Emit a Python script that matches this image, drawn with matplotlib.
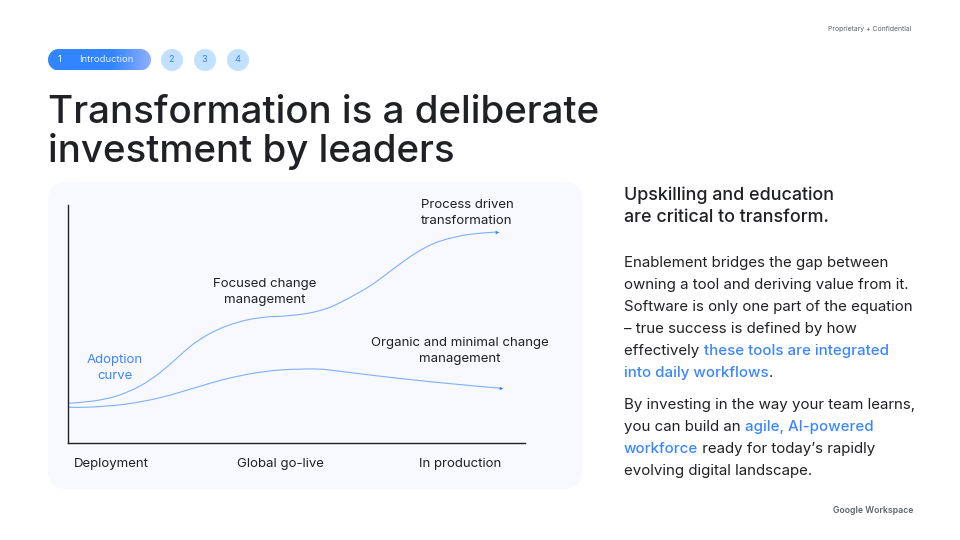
import numpy as np
import matplotlib
matplotlib.use("Agg")
import matplotlib.pyplot as plt
from matplotlib.patches import FancyBboxPatch, Circle, PathPatch, Polygon
from matplotlib.path import Path
from matplotlib.colors import LinearSegmentedColormap

FONT = "Inter"
DARK = "#202124"
BLUE = "#3b86ff"
LINE = "#7fb0fb"

steps = ["2", "3", "4"]
x_categories = ["Deployment", "Global go-live", "In production"]
x_category_pos = [43.5, 212.5, 392.5]
focused_x = [0.8, 25.8, 49.2, 72.5, 92.5, 109.2, 125.8, 142.5, 159.2, 179.2, 199.2, 215.8,
             239.2, 259.2, 275.8, 299.2, 315.8, 332.5, 349.2, 365.8, 382.5, 402.5, 429.2]
focused_y = [39.2, 41.5, 46.5, 56.5, 69.8, 84.2, 98.5, 109, 116.5, 122.5, 125.5, 126.4,
             129, 134, 141.5, 154.5, 166, 178.5, 190, 198.8, 204.2, 208.2, 210.5]
organic_x = [0.5, 25.5, 59.2, 92.5, 125.8, 142.5, 162.5, 185.8, 212.5, 249.2, 275.8, 302.5, 365.5, 433.5]
organic_y = [35.2, 35.5, 38.5, 44.8, 54.2, 59.2, 64.5, 69.2, 72.5, 73.5, 70.8, 67.5, 60.5, 54.2]

fig = plt.figure(figsize=(9.6, 5.4), dpi=100, facecolor="white")
bg = fig.add_axes([0, 0, 1, 1])
bg.set_xlim(0, 960); bg.set_ylim(540, 0); bg.axis("off")


def px(size):
    return size * 0.72


def T(x, y, s, size, color=DARK, ha="left", va="baseline", weight="normal", ax=None):
    return (ax or bg).text(x, y, s, fontsize=px(size), color=color, ha=ha, va=va,
                           fontweight=weight, family=FONT)


def smooth_path(xs, ys):
    """Bezier path running through the read points."""
    p = np.column_stack([xs, ys], ).astype(float)
    verts, codes = [p[0]], [Path.MOVETO]
    for i in range(len(p) - 1):
        a = p[max(i - 1, 0)]; b = p[i]; c = p[i + 1]; d = p[min(i + 2, len(p) - 1)]
        verts += [b + (c - a) / 6, c - (d - b) / 6, c]
        codes += [Path.CURVE4] * 3
    return Path(verts, codes)


# panel
bg.add_patch(FancyBboxPatch((66, 200), 498, 271, boxstyle="round,pad=18,rounding_size=18",
                            fc="#f7f9fe", ec="none"))

# progress pill
t = np.linspace(0, np.pi, 40)
r_p = 10.75
outline = np.vstack([
    np.column_stack([140.25 + r_p * np.sin(t), 59.75 - r_p * np.cos(t)]),
    np.column_stack([58.75 - r_p * np.sin(t), 59.75 + r_p * np.cos(t)]),
])
pill = Polygon(outline, closed=True, fc="none", ec="none", transform=bg.transData)
bg.add_patch(pill)
cm = LinearSegmentedColormap.from_list("p", [(0, "#3284ff"), (0.62, "#3284ff"), (1, "#8fb0ff")])
im = bg.imshow(np.linspace(0, 1, 256)[None, :], cmap=cm, extent=[48, 151, 70.5, 49], aspect="auto", zorder=2)
im.set_clip_path(pill)
bg.set_xlim(0, 960); bg.set_ylim(540, 0)
T(58, 59.5, "1", 9.5, "white", va="center").set_zorder(3)
T(79, 59.5, "Introduction", 9.5, "#e8f0ff", va="center").set_zorder(3)
for cx, s in zip([172, 205, 238], steps):
    bg.add_patch(Circle((cx, 60), 11, fc="#c2e1ff", ec="none"))
    T(cx - 0.5, 60, s, 9.5, "#3f83f0", ha="center", va="center")

T(911, 31, "Proprietary + Confidential", 6.9, "#5f6368", ha="right")
T(913, 513, "Google Workspace", 8.7, "#5f6368", ha="right", weight="semibold")

T(48, 123, "Transformation is a deliberate", 38.5, weight="medium")
T(48, 162, "investment by leaders", 38.5, weight="medium")

# chart
ax = fig.add_axes([67.5 / 960, 1 - 442.5 / 540, 457 / 960, 237.5 / 540], facecolor="none")
ax.set_xlim(0, 457); ax.set_ylim(0, 237.5)
for s in ["top", "right"]:
    ax.spines[s].set_visible(False)
for s in ["left", "bottom"]:
    ax.spines[s].set_color(DARK); ax.spines[s].set_linewidth(1.0)
ax.set_yticks([])
ax.set_xticks(x_category_pos, x_categories, fontsize=px(13.2), color=DARK, family=FONT)
ax.tick_params(axis="x", length=0, pad=11)
for xs, ys in [(focused_x, focused_y), (organic_x, organic_y)]:
    ax.add_patch(PathPatch(smooth_path(xs, ys), fc="none", ec=LINE, lw=0.8, clip_on=False))
    ax.plot(xs[-1], ys[-1], marker=">", ms=2.6, color=BLUE, mec="none", clip_on=False)

for cx, cy, s, c in [(467, 205, "Process driven", DARK), (467, 221, "transformation", DARK),
                     (265, 284, "Focused change", DARK), (265, 300, "management", DARK),
                     (115, 360, "Adoption", BLUE), (115, 376, "curve", BLUE),
                     (460, 343, "Organic and minimal change", DARK), (460, 359, "management", DARK)]:
    T(cx, cy, s, 13.2, c, ha="center", va="center")

# right column
T(624, 200, "Upskilling and education", 17.9, weight="medium")
T(624, 222, "are critical to transform.", 17.9, weight="medium")

body = [
    (267, [("Enablement bridges the gap between", 0)]),
    (289, [("owning a tool and deriving value from it.", 0)]),
    (311, [("Software is only one part of the equation", 0)]),
    (333, [("\u2013 true success is defined by how", 0)]),
    (355, [("effectively ", 0), ("these tools are integrated", 1)]),
    (377, [("into daily workflows", 1), (".", 0)]),
    (409, [("By investing in the way your team learns,", 0)]),
    (431, [("you can build an ", 0), ("agile, AI-powered", 1)]),
    (453, [("workforce", 1), (" ready for today\u2019s rapidly", 0)]),
    (475, [("evolving digital landscape.", 0)]),
]
fig.canvas.draw()
r = fig.canvas.get_renderer()
for y, parts in body:
    x = 624.0
    for s, hl in parts:
        tx = T(x, y, s.replace(" ", "\u00a0"), 15.05, BLUE if hl else DARK, weight="medium" if hl else "normal")
        x += tx.get_window_extent(r).width

fig.savefig("out.png", dpi=100, facecolor="white")
